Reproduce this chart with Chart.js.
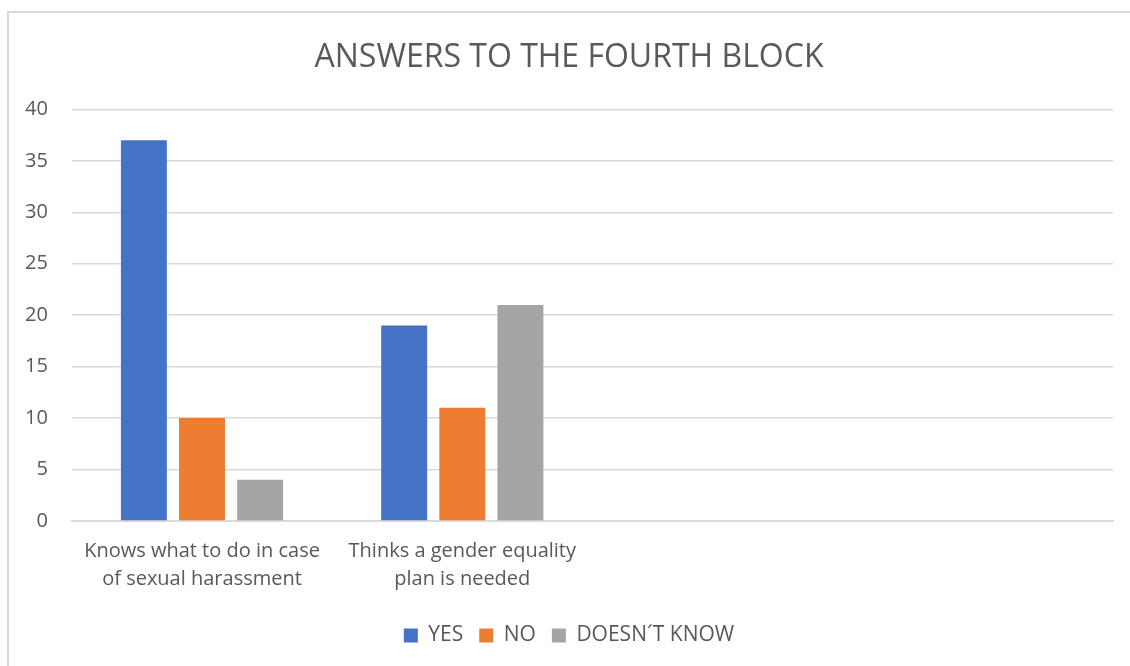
<!DOCTYPE html>
<html lang="en">
<head>
  <meta charset="UTF-8" />
  <title>Answers to the fourth block</title>
  <script src="https://cdn.jsdelivr.net/npm/chart.js"></script>
  <style>
    html, body {
      margin: 0;
      padding: 0;
      background: #ffffff;
      width: 1130px;
      height: 666px;
      overflow: hidden;
    }
    .frame {
      position: absolute;
      left: 7px;
      top: 11px;
      width: 1123px;
      height: 655px;
      border-left: 2px solid #d9d9d9;
      border-top: 2px solid #d9d9d9;
    }
  </style>
</head>
<body>
  <div class="frame">
    <canvas id="answersChart" width="1121" height="653"></canvas>
  </div>

  <script>
    const categories = [
      ["Knows what to do in case", "of sexual harassment"],
      ["Thinks a gender equality", "plan is needed"],
      "",
      ""
    ];
    const yesValues = [37, 19, null, null];
    const noValues = [10, 11, null, null];
    const dontKnowValues = [4, 21, null, null];
    const yTicks = [0, 5, 10, 15, 20, 25, 30, 35, 40];

    const textColor = "#595959";
    const fontFamily = "'Open Sans', 'Noto Sans', sans-serif";

    const ctx = document.getElementById("answersChart").getContext("2d");
    new Chart(ctx, {
      type: "bar",
      data: {
        labels: categories,
        datasets: [
          { label: "YES", data: yesValues, backgroundColor: "#4472c4" },
          { label: "NO", data: noValues, backgroundColor: "#ed7d31" },
          { label: "DOESN\u00B4T KNOW", data: dontKnowValues, backgroundColor: "#a5a5a5" }
        ]
      },
      options: {
        responsive: false,
        animation: false,
        categoryPercentage: 0.67,
        barPercentage: 0.79,
        layout: { padding: { left: 16, right: 17, top: 0, bottom: 10 } },
        plugins: {
          title: {
            display: true,
            text: "ANSWERS TO THE FOURTH BLOCK",
            color: textColor,
            font: { family: fontFamily, size: 32, weight: "normal" },
            padding: { top: 26, bottom: 32 }
          },
          legend: {
            position: "bottom",
            labels: {
              color: textColor,
              font: { family: fontFamily, size: 21 },
              boxWidth: 14,
              boxHeight: 14,
              padding: 16
            }
          },
          tooltip: { enabled: false }
        },
        scales: {
          x: {
            grid: { display: false, drawTicks: false },
            border: { color: "#d9d9d9", width: 2 },
            ticks: {
              color: textColor,
              font: { family: fontFamily, size: 20, lineHeight: 1.4 },
              maxRotation: 0,
              padding: 16
            }
          },
          y: {
            min: 0,
            max: 40,
            afterBuildTicks: (axis) => {
              axis.ticks = yTicks.map((v) => ({ value: v }));
            },
            // only one tick padding between the labels and the plot, none on the outside
            afterFit: (scale) => {
              scale.width = scale.width - scale.options.ticks.padding;
            },
            grid: { color: "#d9d9d9", lineWidth: 1.5, drawTicks: false },
            border: { display: false },
            ticks: {
              color: textColor,
              font: { family: fontFamily, size: 20 },
              padding: 24
            }
          }
        }
      }
    });
  </script>
</body>
</html>
